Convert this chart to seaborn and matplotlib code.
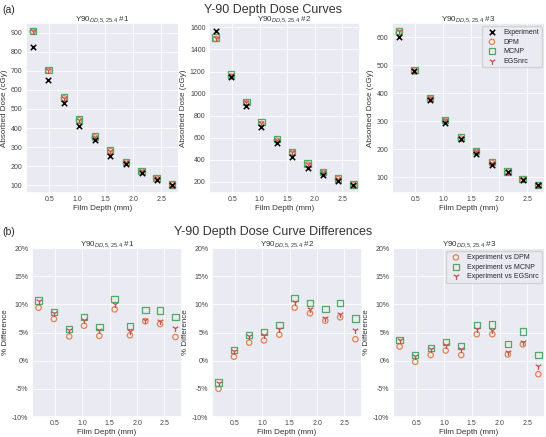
import numpy as np
import pandas as pd
import matplotlib
matplotlib.use("Agg")
import matplotlib.pyplot as plt
import matplotlib.ticker as mtick
import seaborn as sns

# Film depth positions (mm)
depth = [0.20, 0.48, 0.76, 1.03, 1.31, 1.59, 1.87, 2.15, 2.42, 2.70]

# Absorbed dose (cGy) for three sources
exp_1 = [825, 650, 530, 413, 338, 255, 212, 162, 128, 100]
dpm_1 = [905, 700, 556, 441, 352, 280, 220, 173, 135, 104]
mcnp_1 = [910, 705, 560, 445, 355, 283, 222, 175, 137, 105]
egs_1 = [908, 703, 558, 443, 354, 281, 221, 174, 136, 104]

exp_2 = [1570, 1147, 884, 700, 550, 425, 330, 266, 211, 170]
dpm_2 = [1495, 1155, 912, 725, 575, 465, 358, 285, 227, 176]
mcnp_2 = [1508, 1172, 927, 743, 587, 472, 368, 292, 231, 178]
egs_2 = [1505, 1168, 923, 732, 581, 469, 362, 287, 229, 177]

exp_3 = [600, 478, 375, 295, 236, 182, 144, 117, 90, 72]
dpm_3 = [615, 477, 378, 300, 238, 190, 151, 118, 92, 71]
mcnp_3 = [623, 482, 383, 305, 242, 193, 153, 120, 94, 73]
egs_3 = [622, 482, 382, 303, 241, 192, 152, 119, 93, 72]

# Percent differences
dpm_d1 = [9.4, 7.4, 4.3, 6.2, 4.4, 9.1, 4.5, 7.0, 6.5, 4.2]
mcnp_d1 = [10.7, 8.6, 5.6, 7.7, 6.0, 10.9, 6.1, 9.0, 8.9, 7.8]
egs_d1 = [10.6, 8.5, 5.4, 7.3, 5.5, 10.0, 5.3, 7.3, 7.0, 5.8]

dpm_d2 = [-5.0, 0.7, 3.2, 3.6, 4.6, 9.4, 8.4, 7.1, 7.7, 3.8]
mcnp_d2 = [-3.9, 1.9, 4.6, 5.1, 6.3, 11.1, 10.2, 9.2, 10.2, 7.5]
egs_d2 = [-4.0, 1.8, 4.4, 4.6, 5.6, 10.4, 9.2, 7.5, 8.3, 5.5]

dpm_d3 = [2.5, -0.2, 1.0, 1.8, 1.0, 4.7, 4.7, 1.1, 2.9, -2.4]
mcnp_d3 = [3.7, 1.0, 2.3, 3.3, 2.6, 6.3, 6.4, 3.0, 5.2, 1.0]
egs_d3 = [3.6, 0.9, 2.0, 2.8, 2.0, 5.7, 5.5, 1.5, 3.4, -1.0]

titles = [r"Y90$_{DD,5,25.4}$ #1", r"Y90$_{DD,5,25.4}$ #2", r"Y90$_{DD,5,25.4}$ #3"]

sns.set_theme(style="darkgrid")
pal = sns.color_palette("deep")
plt.rcParams["font.family"] = ["Liberation Sans", "DejaVu Sans"]
plt.rcParams["mathtext.fontset"] = "custom"
plt.rcParams["mathtext.rm"] = "Liberation Sans"
plt.rcParams["mathtext.it"] = "Liberation Sans:italic"

fig = plt.figure(figsize=(5.46, 4.37), dpi=100)
W, H = 546, 437

def px_axes(l, t, r, b):
    return fig.add_axes([l / W, 1 - b / H, (r - l) / W, (b - t) / H])

top_pos = [(26, 23, 179, 193), (209, 23, 360, 193), (392, 23, 545, 193)]
bot_pos = [(32, 248, 182, 417), (212, 248, 362, 417), (393, 248, 545, 417)]

dose_sets = [(exp_1, dpm_1, mcnp_1, egs_1), (exp_2, dpm_2, mcnp_2, egs_2), (exp_3, dpm_3, mcnp_3, egs_3)]
diff_sets = [(dpm_d1, mcnp_d1, egs_d1), (dpm_d2, mcnp_d2, egs_d2), (dpm_d3, mcnp_d3, egs_d3)]

ms = 15
lab_fs = 5.8
tick_fs = 5.0
sub_fs = 5.8

def style_axes(ax, title, ylabel):
    ax.set_title(title, fontsize=sub_fs, pad=1.2, color="#333333")
    ax.set_xlabel("Film Depth (mm)", fontsize=lab_fs, labelpad=1, color="#333333")
    ax.set_ylabel(ylabel, fontsize=lab_fs, labelpad=2, color="#333333")
    ax.set_xticks([0.5, 1.0, 1.5, 2.0, 2.5])
    ax.set_xlim(0.08, 2.82)
    ax.tick_params(labelsize=tick_fs, pad=2.5, length=0, colors="#444444")
    ax.grid(linewidth=0.6)

for i in range(3):
    ax = px_axes(*top_pos[i])
    e, d, m, g = dose_sets[i]
    sns.scatterplot(x=depth, y=e, marker="x", color="black", s=ms, linewidth=1.1, label="Experiment", ax=ax, zorder=5)
    sns.scatterplot(x=depth, y=d, marker="o", facecolor="none", edgecolor=pal[1], s=ms, linewidth=0.9, label="DPM", ax=ax)
    sns.scatterplot(x=depth, y=m, marker="s", facecolor="none", edgecolor=pal[2], s=ms + 6, linewidth=0.9, label="MCNP", ax=ax)
    sns.scatterplot(x=depth, y=g, marker="1", color=pal[3], s=ms + 10, linewidth=0.9, label="EGSnrc", ax=ax)
    style_axes(ax, titles[i], "Absorbed Dose (cGy)")
    if i == 2:
        ax.legend(loc="upper right", fontsize=5.0, handletextpad=0.6, borderpad=0.4, labelspacing=0.35)
    else:
        ax.get_legend().remove()

for i in range(3):
    ax = px_axes(*bot_pos[i])
    d, m, g = diff_sets[i]
    sns.scatterplot(x=depth, y=d, marker="o", facecolor="none", edgecolor=pal[1], s=ms, linewidth=0.9, label="Experiment vs DPM", ax=ax)
    sns.scatterplot(x=depth, y=m, marker="s", facecolor="none", edgecolor=pal[2], s=ms + 6, linewidth=0.9, label="Experiment vs MCNP", ax=ax)
    sns.scatterplot(x=depth, y=g, marker="1", color=pal[3], s=ms + 10, linewidth=0.9, label="Experiment vs EGSnrc", ax=ax)
    style_axes(ax, titles[i], "% Difference")
    ax.set_ylim(-10, 20)
    ax.set_yticks([-10, -5, 0, 5, 10, 15, 20])
    ax.yaxis.set_major_formatter(mtick.FormatStrFormatter("%d%%"))
    if i == 2:
        ax.legend(loc="upper right", fontsize=5.0, handletextpad=0.6, borderpad=0.4, labelspacing=0.35)
    else:
        ax.get_legend().remove()

fig.text(0.5, 1 - 9.5 / H, "Y-90 Depth Dose Curves", ha="center", va="center", fontsize=9, color="#333333")
fig.text(0.5, 1 - 232 / H, "Y-90 Depth Dose Curve Differences", ha="center", va="center", fontsize=9, color="#333333")
fig.text(2 / W, 1 - 10 / H, "(a)", ha="left", va="center", fontsize=7.5)
fig.text(2 / W, 1 - 232 / H, "(b)", ha="left", va="center", fontsize=7.5)

fig.savefig("out.png", dpi=100)
